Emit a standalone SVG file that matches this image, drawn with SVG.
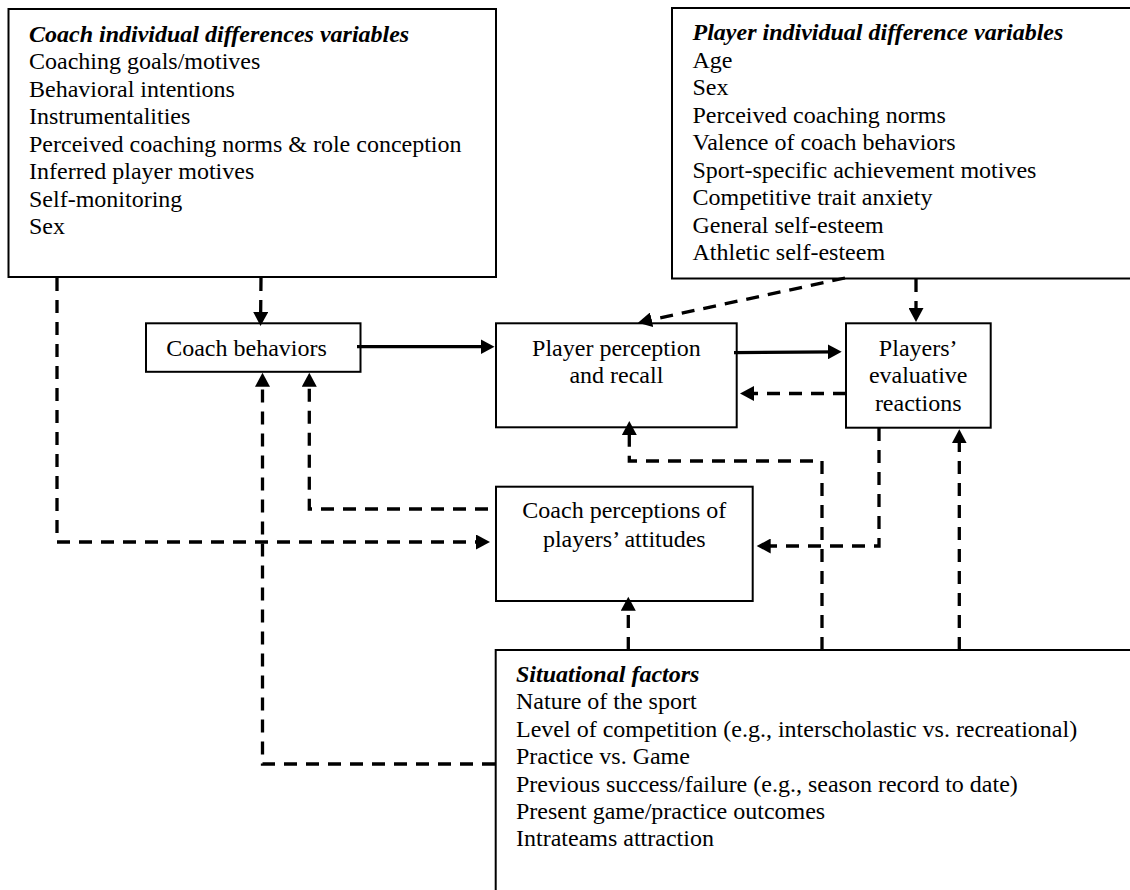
<svg xmlns="http://www.w3.org/2000/svg" width="1130" height="890" viewBox="0 0 1130 890">
<style>
.box{fill:#fff;stroke:#000;stroke-width:2}
.t{font-family:"Liberation Serif","Times New Roman",serif;font-size:24px;fill:#000}
.h{font-weight:bold;font-style:italic}
.c{text-anchor:middle}
.solid{fill:none;stroke:#000;stroke-width:3.3}
.dash{fill:none;stroke:#000;stroke-width:3.3;stroke-dasharray:13 9}
</style>
<defs>
<marker id="ah" markerUnits="userSpaceOnUse" markerWidth="15" markerHeight="15" refX="7" refY="7.5" orient="auto" viewBox="0 0 15 15">
<path d="M0,0 L14,7.5 L0,15 z" fill="#000"/>
</marker>
</defs>
<rect width="1130" height="890" fill="#fff"/>

<g id="coach-individual-differences">
<rect class="box" x="8.5" y="9" width="487.5" height="268"/>
<text class="t h" x="29" y="41.5">Coach individual differences variables</text>
<text class="t" x="29" y="69">Coaching goals/motives</text>
<text class="t" x="29" y="96.5">Behavioral intentions</text>
<text class="t" x="29" y="124">Instrumentalities</text>
<text class="t" x="29" y="151.5">Perceived coaching norms &amp; role conception</text>
<text class="t" x="29" y="179">Inferred player motives</text>
<text class="t" x="29" y="206.5">Self-monitoring</text>
<text class="t" x="29" y="234">Sex</text>
</g>

<g id="player-individual-differences">
<rect class="box" x="672" y="8" width="480" height="270.5"/>
<text class="t h" x="692.5" y="40">Player individual difference variables</text>
<text class="t" x="692.5" y="67.5">Age</text>
<text class="t" x="692.5" y="95">Sex</text>
<text class="t" x="692.5" y="122.5">Perceived coaching norms</text>
<text class="t" x="692.5" y="150">Valence of coach behaviors</text>
<text class="t" x="692.5" y="177.5">Sport-specific achievement motives</text>
<text class="t" x="692.5" y="205">Competitive trait anxiety</text>
<text class="t" x="692.5" y="232.5">General self-esteem</text>
<text class="t" x="692.5" y="260">Athletic self-esteem</text>
</g>

<g id="coach-behaviors">
<rect class="box" x="146" y="323.3" width="214.5" height="48.5"/>
<text class="t c" x="246.5" y="356">Coach behaviors</text>
</g>

<g id="player-perception">
<rect class="box" x="496" y="323.3" width="240.7" height="104"/>
<text class="t c" x="616.4" y="356">Player perception</text>
<text class="t c" x="616.4" y="383.3">and recall</text>
</g>

<g id="players-evaluative-reactions">
<rect class="box" x="846" y="323.3" width="144.7" height="104.4"/>
<text class="t c" x="918.2" y="356">Players’</text>
<text class="t c" x="918.2" y="383.3">evaluative</text>
<text class="t c" x="918.2" y="410.5">reactions</text>
</g>

<g id="coach-perceptions">
<rect class="box" x="496" y="486.7" width="256.7" height="114.3"/>
<text class="t c" x="624.3" y="518.3">Coach perceptions of</text>
<text class="t c" x="624.3" y="547.3">players’ attitudes</text>
</g>

<g id="situational-factors">
<rect class="box" x="495.7" y="650" width="660" height="260"/>
<text class="t h" x="516" y="681.7">Situational factors</text>
<text class="t" x="516" y="708.5">Nature of the sport</text>
<text class="t" x="516" y="736.5">Level of competition (e.g., interscholastic vs. recreational)</text>
<text class="t" x="516" y="764">Practice vs. Game</text>
<text class="t" x="516" y="791.5">Previous success/failure (e.g., season record to date)</text>
<text class="t" x="516" y="819">Present game/practice outcomes</text>
<text class="t" x="516" y="846">Intrateams attraction</text>
</g>

<g id="connectors">
<path class="dash" d="M261,278 L260.6,319" marker-end="url(#ah)"/>
<path class="dash" d="M57,278 V542 H483" marker-end="url(#ah)"/>
<path class="solid" d="M357,346.7 H487.5" marker-end="url(#ah)"/>
<path class="dash" d="M495,764 H262.5 V379.7" marker-end="url(#ah)"/>
<path class="dash" d="M488,509 H309.3 V379.7" marker-end="url(#ah)"/>
<path class="dash" d="M845,278 L644.8,321.2" marker-end="url(#ah)"/>
<path class="dash" d="M916,279 V315" marker-end="url(#ah)"/>
<path class="solid" d="M734,352.7 L834.7,351.8" marker-end="url(#ah)"/>
<path class="dash" d="M846,393.5 H747" marker-end="url(#ah)"/>
<path class="dash" d="M879,428 V546 H763.7" marker-end="url(#ah)"/>
<path class="dash" d="M822,650 V461 H629.3 V428" marker-end="url(#ah)"/>
<path class="dash" d="M959.3,650 V436.3" marker-end="url(#ah)"/>
<path class="dash" d="M628.3,650 V603.7" marker-end="url(#ah)"/>
</g>
</svg>
